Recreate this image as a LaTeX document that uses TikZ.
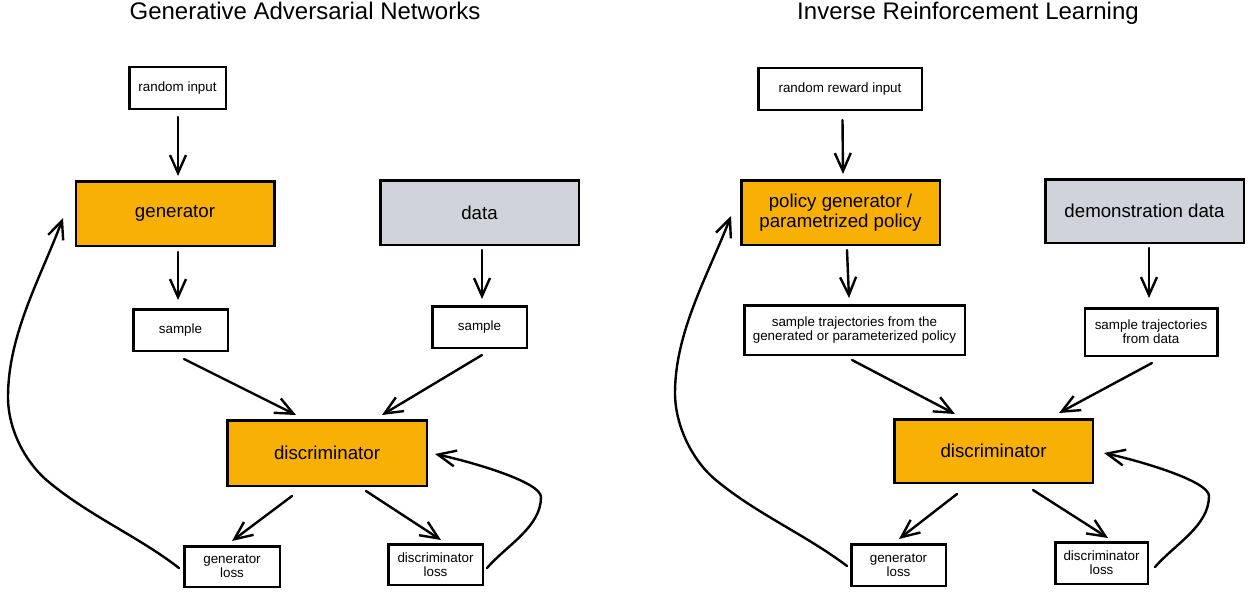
\documentclass[tikz,border=0pt]{standalone}
\usepackage{fontspec}
\setmainfont{Liberation Sans}
\usetikzlibrary{arrows.meta,calc}
\definecolor{gorange}{HTML}{F9B004}
\definecolor{ggray}{HTML}{D0D4DA}
\begin{document}
\begin{tikzpicture}[x=1pt,y=-1pt,
  box/.style={draw=black,line width=2.5pt,inner sep=0pt,align=center},
  small/.style={box,fill=white,font=\fontsize{13.4}{14.3}\selectfont},
  big/.style={box,font=\fontsize{18.7}{19.5}\selectfont},
  hot/.style={big,fill=gorange},
  cool/.style={big,fill=ggray},
  ttl/.style={font=\fontsize{24}{28}\selectfont,anchor=base,inner sep=0pt},
  arr/.style={line width=2.4pt,line cap=round,line join=round,-{Straight Barb[length=18pt,width=16pt]}}
]
\useasboundingbox (0,0) rectangle (1248,594);

% ---------------- left panel ----------------
\node[ttl] (tL) at (305,20) {Generative Adversarial Networks};
\node[small,minimum width=96.5pt,minimum height=41.5pt] (rinL) at (177.5,88) {random input};
\node[hot,minimum width=198.5pt,minimum height=64.5pt] (genL) at (175,213.5) {generator};
\node[cool,minimum width=198.5pt,minimum height=64.5pt] (dataL) at (479.5,212.5) {data};
\node[small,minimum width=94.5pt,minimum height=41.5pt] (sL1) at (180.5,330) {sample};
\node[small,minimum width=94.5pt,minimum height=41.5pt] (sL2) at (479.5,327) {sample};
\node[hot,minimum width=199.5pt,minimum height=65.5pt] (discL) at (327,453) {discriminator};
\node[small,minimum width=95.5pt,minimum height=40.5pt] (glL) at (232,566.5) {generator\\loss};
\node[small,minimum width=94.5pt,minimum height=40.5pt] (dlL) at (435.5,564.5) {discriminator\\loss};

\draw[arr] ($(rinL.south)+(0.5,7)$) -- ($(genL.north)+(3,-4)$);
\draw[arr] ($(genL.south)+(3,5)$) -- ($(sL1.north)+(-2.5,-8)$);
\draw[arr] ($(dataL.south)+(2.5,4)$) -- ($(sL2.north)+(2.5,-6)$);
\draw[arr] ($(sL1.south)+(3.5,7)$) -- ($(discL.north)+(-31,-4)$);
\draw[arr] ($(sL2.south)+(2.5,6)$) -- ($(discL.north)+(55,-4)$);
\draw[arr] ($(discL.south)+(-35,9)$) -- ($(glL.north)+(0,-4)$);
\draw[arr] ($(discL.south)+(39,4)$) -- ($(dlL.north)+(5.5,-3)$);
\draw[arr] ($(dlL.east)+(3,3.5)$) .. controls (507,545) and (541,527) .. (541,497)
  .. controls (541,482) and (472,462) .. ($(discL.east)+(7,1)$);
\draw[arr] ($(glL.west)+(-4,1.5)$) .. controls (139,537) and (90,516) .. (50,483)
  .. controls (25,463) and (8,429) .. (8,397)
  .. controls (8,334) and (41,277) .. ($(genL.west)+(-11.5,4.5)$);

% ---------------- right panel ----------------
\node[ttl] (tR) at (968,20) {Inverse Reinforcement Learning};
\node[small,minimum width=163.5pt,minimum height=41.5pt] (rinR) at (840,89) {random reward input};
\node[hot,minimum width=198.5pt,minimum height=64.5pt] (polR) at (840.5,212.5) {policy generator /\\parametrized policy};
\node[cool,minimum width=198.5pt,minimum height=63.5pt] (demoR) at (1144.5,211) {demonstration data};
\node[small,minimum width=220.5pt,minimum height=49.5pt] (sR1) at (854.5,330) {sample trajectories from the\\generated or parameterized policy};
\node[small,minimum width=132.5pt,minimum height=47.5pt] (sR2) at (1151,332) {sample trajectories\\from data};
\node[hot,minimum width=198.5pt,minimum height=63.5pt] (discR) at (993.5,451) {discriminator};
\node[small,minimum width=94.5pt,minimum height=41.5pt] (glR) at (898.5,565) {generator\\loss};
\node[small,minimum width=92.5pt,minimum height=41.5pt] (dlR) at (1101.5,563) {discriminator\\loss};

\draw[arr] ($(rinR.south)+(2.5,9)$) -- ($(polR.north)+(2.5,-5)$);
\draw[arr] ($(polR.south)+(6.5,4)$) -- ($(sR1.north)+(-5.5,-6)$);
\draw[arr] ($(demoR.south)+(4.5,4)$) -- ($(sR2.north)+(-2,-9)$);
\draw[arr] ($(sR1.south)+(-2.5,4)$) -- ($(discR.north)+(-38.5,-4)$);
\draw[arr] ($(sR2.south)+(1,6)$) -- ($(discR.north)+(65.5,-5)$);
\draw[arr] ($(discR.south)+(-36.5,10)$) -- ($(glR.north)+(0.5,-4)$);
\draw[arr] ($(discR.south)+(39.5,6)$) -- ($(dlR.north)+(6.5,-3)$);
\draw[arr] ($(dlR.east)+(6,4)$) .. controls (1175,544) and (1209,526) .. (1209,496)
  .. controls (1209,481) and (1140,461) .. ($(discR.east)+(10,2)$);
\draw[arr] ($(glR.west)+(-3,1)$) .. controls (806,535) and (757,514) .. (717,481)
  .. controls (692,461) and (675,425) .. (675,393)
  .. controls (675,332) and (708,275) .. ($(polR.west)+(-9,3.5)$);
\end{tikzpicture}
\end{document}
